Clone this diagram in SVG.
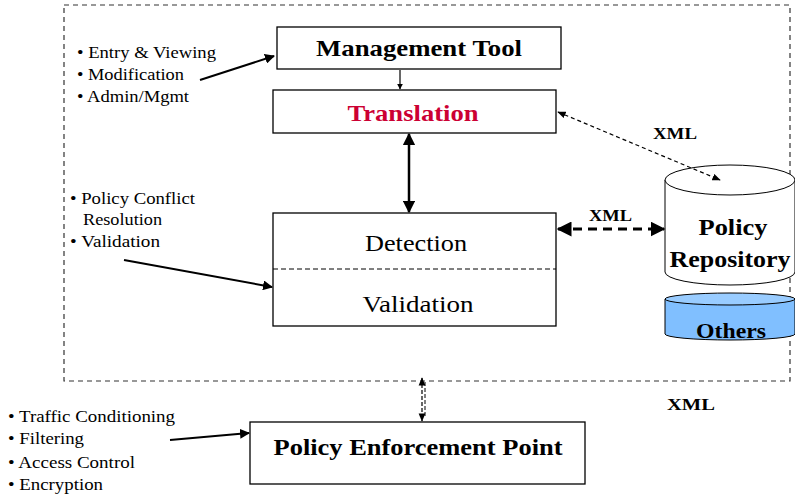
<svg xmlns="http://www.w3.org/2000/svg" width="795" height="497" viewBox="0 0 795 497">
<style>
text{font-family:'Liberation Serif','Times New Roman','DejaVu Serif',serif;fill:#000}
.b{font-weight:bold;font-size:24px;text-anchor:middle}
.r{font-size:23px;text-anchor:middle}
.s{font-size:16px}
.x{font-weight:bold;font-size:16px}
.box{fill:#fff;stroke:#000;stroke-width:1.3}
.ln{stroke:#000;fill:none}
</style>
<defs>
<marker id="ah" viewBox="0 0 10 10" refX="9" refY="5" markerWidth="5" markerHeight="5" orient="auto-start-reverse"><path d="M0,0L10,5L0,10z" fill="#000"/></marker>
<marker id="as" viewBox="0 0 10 10" refX="9" refY="5" markerWidth="7" markerHeight="7" orient="auto-start-reverse"><path d="M0,1L10,5L0,9z" fill="#000"/></marker>
</defs>
<rect x="64" y="5" width="726" height="376" fill="none" stroke="#333" stroke-width="1.2" stroke-dasharray="5,4"/>
<g id="mgmt"><rect class="box" x="277" y="27" width="284" height="42"/><text class="b" x="419" y="56" textLength="206" lengthAdjust="spacingAndGlyphs">Management Tool</text></g>
<g id="translation"><rect class="box" x="273" y="90" width="283" height="43"/><text class="b" x="413" y="121" style="fill:#cc0033" textLength="131" lengthAdjust="spacingAndGlyphs">Translation</text></g>
<g id="detection"><rect class="box" x="273" y="213" width="283" height="113"/><line x1="273" y1="269" x2="556" y2="269" stroke="#000" stroke-dasharray="5,3"/><text class="r" x="416" y="251" textLength="102" lengthAdjust="spacingAndGlyphs">Detection</text><text class="r" x="418" y="312" textLength="111" lengthAdjust="spacingAndGlyphs">Validation</text></g>
<g id="repository"><path d="M665,180 V272 A65,13 0 0 0 795,272 V180" fill="#fff" stroke="#000"/><ellipse cx="730" cy="180" rx="65" ry="15" fill="#fff" stroke="#000"/><text class="b" x="733" y="235" textLength="69" lengthAdjust="spacingAndGlyphs">Policy</text><text class="b" x="730" y="267" textLength="121" lengthAdjust="spacingAndGlyphs">Repository</text></g>
<g id="others"><path d="M665,299 V334 A65,6 0 0 0 795,334 V299" fill="#80bfff" stroke="#000"/><ellipse cx="730" cy="299" rx="65" ry="6" fill="#99ccff" stroke="#000"/><text class="b" x="731" y="338" style="font-size:21px" textLength="70" lengthAdjust="spacingAndGlyphs">Others</text></g>
<g id="pep"><rect class="box" x="250" y="422" width="335" height="62"/><text class="b" x="418" y="455" textLength="289" lengthAdjust="spacingAndGlyphs">Policy Enforcement Point</text></g>
<g id="labels">
<text class="s" x="77" y="58" textLength="139" lengthAdjust="spacingAndGlyphs">• Entry &amp; Viewing</text>
<text class="s" x="77" y="80" textLength="107" lengthAdjust="spacingAndGlyphs">• Modification</text>
<text class="s" x="77" y="102" textLength="112" lengthAdjust="spacingAndGlyphs">• Admin/Mgmt</text>
<text class="s" x="70" y="204" textLength="125" lengthAdjust="spacingAndGlyphs">• Policy Conflict</text>
<text class="s" x="83" y="225" textLength="79" lengthAdjust="spacingAndGlyphs">Resolution</text>
<text class="s" x="70" y="247" textLength="90" lengthAdjust="spacingAndGlyphs">• Validation</text>
<text class="s" x="8" y="422" textLength="167" lengthAdjust="spacingAndGlyphs">• Traffic Conditioning</text>
<text class="s" x="8" y="444" textLength="76" lengthAdjust="spacingAndGlyphs">• Filtering</text>
<text class="s" x="8" y="468" textLength="127" lengthAdjust="spacingAndGlyphs">• Access Control</text>
<text class="s" x="8" y="490" textLength="95" lengthAdjust="spacingAndGlyphs">• Encryption</text>
<text class="x" x="653" y="139" textLength="44" lengthAdjust="spacingAndGlyphs">XML</text>
<text class="x" x="589" y="221" textLength="43" lengthAdjust="spacingAndGlyphs">XML</text>
<text class="x" x="667" y="410" style="font-size:17px" textLength="48" lengthAdjust="spacingAndGlyphs">XML</text>
</g>
<g id="connectors">
<line class="ln" x1="200" y1="80" x2="274" y2="56" stroke-width="2" marker-end="url(#ah)"/>
<line class="ln" x1="124" y1="260" x2="272" y2="287" stroke-width="2" marker-end="url(#ah)"/>
<line class="ln" x1="170" y1="440" x2="249" y2="433" stroke-width="2" marker-end="url(#ah)"/>
<line class="ln" x1="400" y1="70" x2="400" y2="89" stroke-width="1.2" marker-end="url(#ah)"/>
<line class="ln" x1="409" y1="134" x2="409" y2="212" stroke-width="2.5" marker-start="url(#ah)" marker-end="url(#ah)"/>
<line class="ln" x1="558" y1="112" x2="720" y2="180" stroke-width="1.2" stroke-dasharray="4,3" marker-start="url(#as)" marker-end="url(#as)"/>
<line class="ln" x1="558" y1="229" x2="664" y2="229" stroke-width="3" stroke-dasharray="9,6" marker-start="url(#ah)" marker-end="url(#ah)"/>
<line class="ln" x1="422" y1="378" x2="422" y2="421" stroke-width="1.2" stroke-dasharray="4,2" marker-start="url(#as)" marker-end="url(#as)"/>
<line class="ln" x1="425" y1="382" x2="425" y2="417" stroke-width="1" stroke-dasharray="4,2"/>
</g>
</svg>
